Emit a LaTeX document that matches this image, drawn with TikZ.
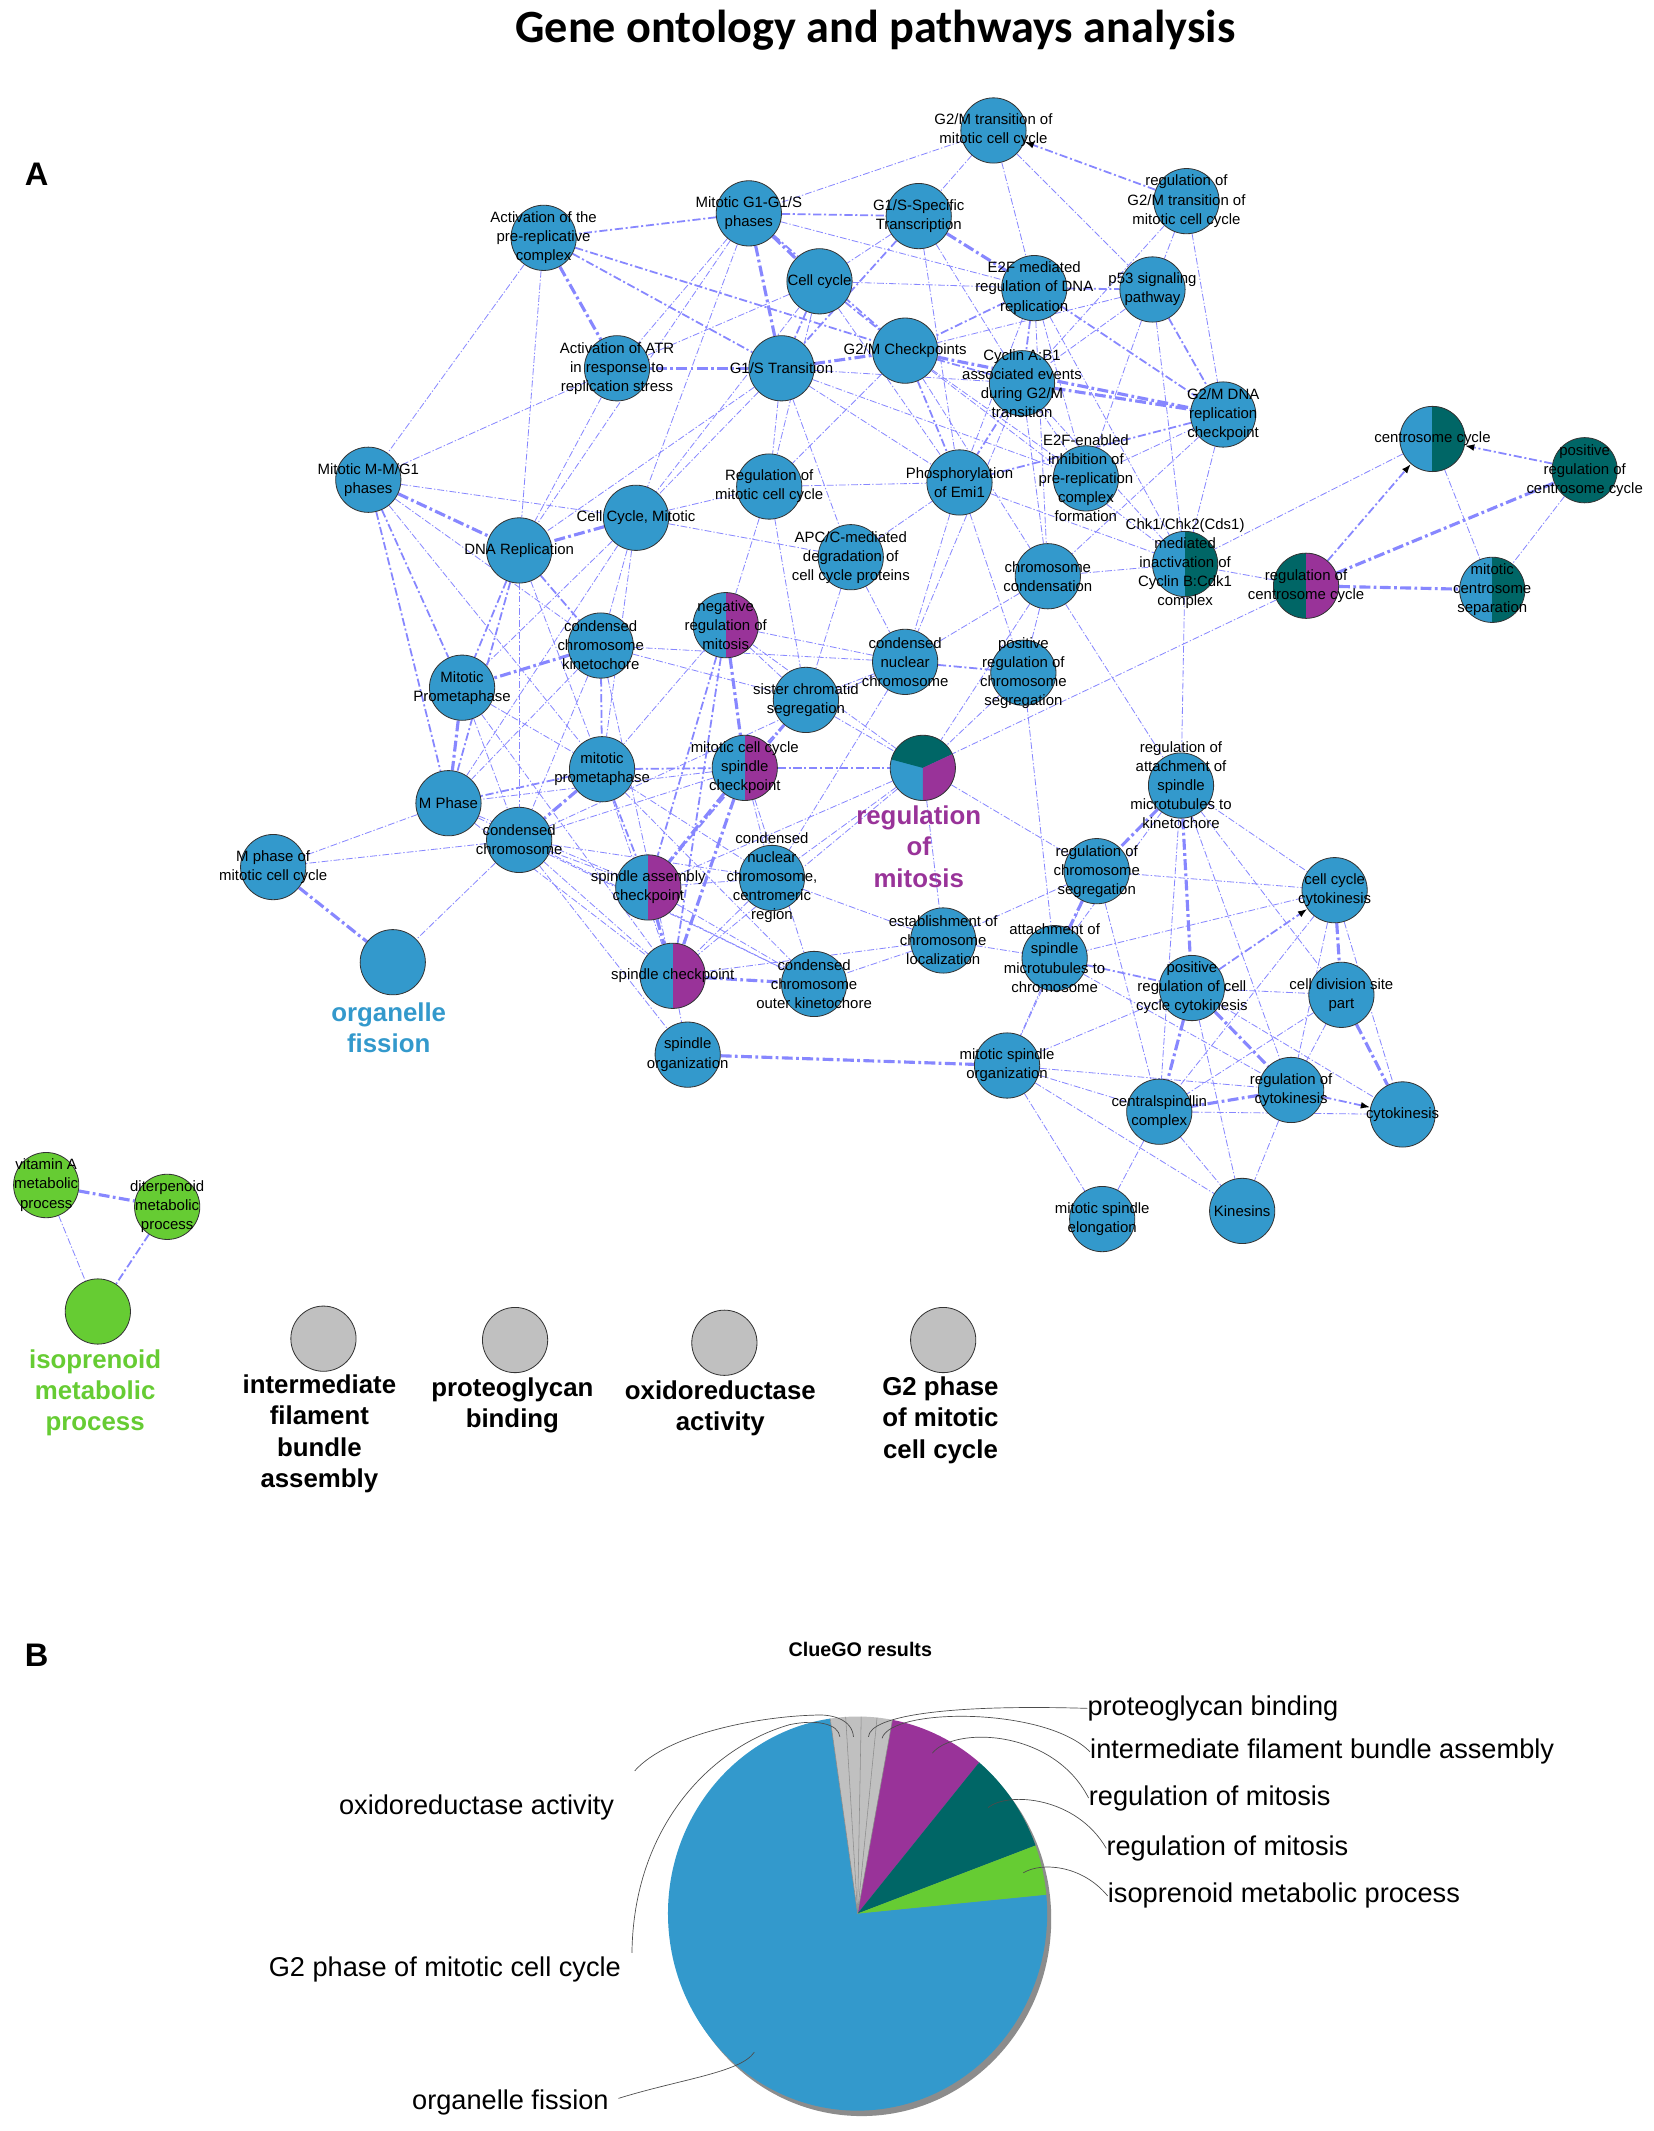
\documentclass[tikz,border=0pt]{standalone}
\usepackage{fontspec}
\setmainfont{Liberation Sans}
\newfontfamily\titlefont{Carlito}
\usetikzlibrary{arrows.meta}
\definecolor{nblue}{RGB}{51,153,204}
\definecolor{npurple}{RGB}{153,51,153}
\definecolor{nteal}{RGB}{0,102,102}
\definecolor{ngreen}{RGB}{102,204,51}
\definecolor{ngrey}{RGB}{192,192,192}
\definecolor{ecol}{RGB}{135,135,255}
\pgfdeclarelayer{bglayer}
\pgfdeclarelayer{edgelayer}
\pgfsetlayers{bglayer,edgelayer,main}
\tikzset{
  gonode/.style={circle, draw=black!80, line width=0.6pt, minimum size=48pt, inner sep=0pt, fill=nblue},
  halfright/.style={path picture={\fill[#1] (path picture bounding box.north) rectangle (path picture bounding box.south east);}},
  tripie/.style={path picture={
     \fill[nteal] (path picture bounding box.center) -- ++(-25:30) arc[start angle=-25, end angle=-165, radius=30] -- cycle;
     \fill[npurple] (path picture bounding box.center) -- ++(90:30) arc[start angle=90, end angle=-25, radius=30] -- cycle;}},
  lab/.style={font=\fontsize{11}{14}\selectfont, align=center, inner sep=0pt},
  biglab/.style={font=\fontsize{19}{23}\selectfont\bfseries, align=center, inner sep=0pt},
  piel/.style={font=\fontsize{20}{24}\selectfont, inner sep=0pt},
  ethin/.style={draw=ecol, line width=0.6pt, dash pattern=on 5pt off 1.5pt on 1pt off 1.5pt},
  emid/.style={draw=ecol, line width=1.3pt, dash pattern=on 6pt off 2pt on 1.5pt off 2pt},
  ethick/.style={draw=ecol, line width=2.3pt, dash pattern=on 8pt off 2.5pt on 2pt off 2.5pt},
  tipped/.style={-{Latex[length=7pt,width=5pt,black]}},
  leader/.style={draw=black!70, line width=0.5pt},
}
\begin{document}
\begin{tikzpicture}[x=1pt,y=-1pt]
\useasboundingbox (0,0) rectangle (1217,1568);
\begin{pgfonlayer}{bglayer}
\fill[white] (0,0) rectangle (1217,1568);
\end{pgfonlayer}

% ---------- titles ----------
\node[font=\titlefont\fontsize{34}{40}\selectfont\bfseries] (title) at (644,22) {Gene ontology and pathways analysis};
\node[font=\fontsize{24}{28}\selectfont\bfseries] (lA) at (27,128) {A};
\node[font=\fontsize{24}{28}\selectfont\bfseries] (lB) at (27,1218) {B};

% ---------- network nodes ----------
\node[gonode] (g2mt) at (731,96) {};
\node[gonode] (rg2m) at (873,148) {};
\node[gonode] (mg1) at (551,157) {};
\node[gonode] (g1ss) at (676,159) {};
\node[gonode] (actp) at (400,175) {};
\node[gonode] (cc) at (603,207) {};
\node[gonode] (e2fm) at (761,212) {};
\node[gonode] (p53) at (848,213) {};
\node[gonode] (atr) at (454,271) {};
\node[gonode] (g1st) at (575,271) {};
\node[gonode] (g2mc) at (666,258) {};
\node[gonode] (cyc) at (752,282) {};
\node[gonode] (g2md) at (900,305) {};
\node[gonode, halfright=nteal] (cent) at (1054,323) {};
\node[gonode, fill=nteal] (prc) at (1166,346) {};
\node[gonode] (mmg1) at (271,353) {};
\node[gonode] (rmcc) at (566,358) {};
\node[gonode] (phos) at (706,355) {};
\node[gonode] (e2fe) at (799,352) {};
\node[gonode] (ccm) at (468,381) {};
\node[gonode] (dna) at (382,405) {};
\node[gonode] (apc) at (626,410) {};
\node[gonode] (ccond) at (771,424) {};
\node[gonode, halfright=nteal] (chk) at (872,415) {};
\node[gonode, fill=nteal, halfright=npurple] (rcc) at (961,431) {};
\node[gonode, halfright=nteal] (mcs) at (1098,434) {};
\node[gonode] (cck) at (442,475) {};
\node[gonode, halfright=npurple] (neg) at (534,460) {};
\node[gonode] (cnc) at (666,487) {};
\node[gonode] (prcs) at (753,495) {};
\node[gonode] (mpro) at (340,506) {};
\node[gonode] (sis) at (593,515) {};
\node[gonode] (ratt) at (869,578) {};
\node[gonode] (mpro2) at (443,566) {};
\node[gonode, halfright=npurple] (mccs) at (548,565) {};
\node[gonode, tripie] (rmit) at (679,565) {};
\node[gonode] (mph) at (330,591) {};
\node[gonode] (cch) at (382,618) {};
\node[gonode] (mphm) at (201,638) {};
\node[gonode, halfright=npurple] (sac) at (477,653) {};
\node[gonode] (cncc) at (568,646) {};
\node[gonode] (rcs) at (807,641) {};
\node[gonode] (ccyt) at (982,655) {};
\node[gonode] (org) at (289,708) {};
\node[gonode] (est) at (694,692) {};
\node[gonode] (asm) at (776,705) {};
\node[gonode, halfright=npurple] (spc) at (495,718) {};
\node[gonode] (ccok) at (599,724) {};
\node[gonode] (prcy) at (877,727) {};
\node[gonode] (cds) at (987,732) {};
\node[gonode] (sporg) at (506,776) {};
\node[gonode] (msorg) at (741,784) {};
\node[gonode] (rcyt) at (950,802) {};
\node[gonode] (csp) at (853,818) {};
\node[gonode] (cyt) at (1032,820) {};
\node[gonode] (mse) at (811,897) {};
\node[gonode] (kin) at (914,891) {};
\node[gonode, fill=ngreen] (vit) at (34,872) {};
\node[gonode, fill=ngreen] (dit) at (123,888) {};
\node[gonode, fill=ngreen] (iso) at (72,965) {};
\node[gonode, fill=ngrey] (gr1) at (238,985) {};
\node[gonode, fill=ngrey] (gr2) at (379,986) {};
\node[gonode, fill=ngrey] (gr3) at (533,988) {};
\node[gonode, fill=ngrey] (gr4) at (694,986) {};

% ---------- edges ----------
\begin{pgfonlayer}{edgelayer}
\foreach \a/\b in {g2mt/mg1, g2mt/g1ss, g2mt/e2fm, g2mt/p53, rg2m/p53, rg2m/g2md, rg2m/cyc, mg1/atr, mg1/e2fm, mg1/ccm, mg1/dna, g1ss/cc, g1ss/cyc, g1ss/phos, actp/mmg1, actp/dna, cc/ccm, cc/rmcc, cc/atr, cc/phos, cc/e2fm, e2fm/phos, e2fm/chk, e2fm/ccond, e2fm/e2fe, p53/g2mc, p53/cyc, p53/chk, p53/e2fe, atr/mmg1, atr/dna, g1st/ccm, g1st/dna, g1st/rmcc, g1st/apc, g1st/phos, g1st/e2fe, g1st/cyc, g2mc/e2fe, g2mc/chk, g2mc/rmcc, g2mc/ccond, cyc/e2fe, cyc/chk, cyc/ccond, cyc/cnc, g2md/e2fe, g2md/chk, g2md/ccond, cent/chk, cent/mcs, prc/mcs, rcc/chk, rcc/rmit, chk/ratt, mmg1/cck, mmg1/ccm, mmg1/mpro2, ccm/rmcc, ccm/apc, ccm/mpro, ccm/cck, ccm/mpro2, ccm/mph, dna/cch, dna/mpro2, rmcc/neg, rmcc/phos, rmcc/sis, apc/phos, apc/sis, apc/cnc, phos/chk, phos/prcs, phos/cnc, ccond/cnc, ccond/prcs, ccond/chk, ccond/ratt, ccond/rmit, cck/sis, cck/cnc, cck/mph, cck/cch, cck/spc, neg/sis, neg/cnc, neg/rmit, neg/mpro2, cnc/sis, cnc/cncc, cnc/cch, prcs/rmit, prcs/asm, mpro/mpro2, mpro/cch, mpro/spc, sis/rmit, ratt/asm, ratt/ccyt, ratt/csp, ratt/rcyt, ratt/cds, mpro2/spc, mpro2/cncc, mpro2/ccok, mccs/cncc, mccs/ccok, mccs/mph, mccs/cch, rmit/sac, rmit/spc, rmit/cncc, rmit/rcs, rmit/est, mph/mphm, mph/sac, mph/spc, mph/ccok, cch/mphm, cch/org, cch/sac, cch/spc, cch/cncc, cch/ccok, cch/sporg, sac/cncc, sac/ccok, cncc/spc, cncc/est, rcs/ccyt, rcs/est, rcs/msorg, rcs/csp, ccyt/cyt, ccyt/rcyt, ccyt/csp, ccyt/asm, est/asm, est/spc, est/ccok, asm/msorg, asm/rcyt, spc/sporg, prcy/cds, prcy/msorg, prcy/cyt, prcy/kin, cds/rcyt, cds/csp, msorg/csp, msorg/rcyt, msorg/mse, msorg/kin, rcyt/kin, csp/cyt, csp/mse, csp/kin, vit/iso}
  \draw[ethin] (\a) -- (\b);
\foreach \a/\b in {mg1/actp, mg1/g1ss, mg1/g2mc, g1ss/g1st, actp/g1st, actp/g2mc, cc/g1st, cc/g2mc, e2fm/g2mc, e2fm/cyc, e2fm/p53, e2fm/g2md, p53/g2md, g2mc/cyc, g2mc/phos, cyc/phos, g2md/phos, mmg1/mpro, mmg1/mph, dna/mpro, dna/mph, dna/cck, cck/mpro2, neg/sac, neg/spc, sis/mccs, sis/sac, mpro2/mccs, mpro2/sac, mpro2/mph, mccs/rmit, asm/prcy, dit/iso, cnc/prcs}
  \draw[emid] (\a) -- (\b);
\foreach \a/\b in {mmg1/dna, ccm/dna, cck/mpro, neg/mccs, mpro/mph, mpro2/cch, mccs/sac, mccs/spc, rcs/asm, ratt/rcs, ratt/prcy, prcy/csp, prcy/rcyt, ccyt/cds, cds/cyt, rcyt/csp, sporg/msorg, mphm/org, sac/spc, spc/ccok, vit/dit, rcc/prc, rcc/mcs, g1st/atr, actp/atr, mg1/cc, mg1/g1st, g1ss/e2fm, g1st/g2mc, g2mc/g2md, cyc/g2md}
  \draw[ethick] (\a) -- (\b);
\draw[emid, tipped] (rg2m) -- (g2mt);
\draw[emid, tipped] (prc) -- (cent);
\draw[emid, tipped] (rcc) -- (cent);
\draw[emid, tipped] (prcy) -- (ccyt);
\draw[emid, tipped] (rcyt) -- (cyt);
\end{pgfonlayer}

% ---------- node labels ----------
\node[lab] (g2mt-t) at (g2mt) {G2/M transition of\\mitotic cell cycle};
\node[lab] (rg2m-t) at (rg2m) {regulation of\\G2/M transition of\\mitotic cell cycle};
\node[lab] (mg1-t) at (mg1) {Mitotic G1-G1/S\\phases};
\node[lab] (g1ss-t) at (g1ss) {G1/S-Specific\\Transcription};
\node[lab] (actp-t) at (actp) {Activation of the\\pre-replicative\\complex};
\node[lab] (cc-t) at (cc) {Cell cycle};
\node[lab] (e2fm-t) at (e2fm) {E2F mediated\\regulation of DNA\\replication};
\node[lab] (p53-t) at (p53) {p53 signaling\\pathway};
\node[lab] (atr-t) at (atr) {Activation of ATR\\in response to\\replication stress};
\node[lab] (g1st-t) at (g1st) {G1/S Transition};
\node[lab] (g2mc-t) at (g2mc) {G2/M Checkpoints};
\node[lab] (cyc-t) at (cyc) {Cyclin A:B1\\associated events\\during G2/M\\transition};
\node[lab] (g2md-t) at (g2md) {G2/M DNA\\replication\\checkpoint};
\node[lab] (cent-t) at (cent) {centrosome cycle};
\node[lab] (prc-t) at (prc) {positive\\regulation of\\centrosome cycle};
\node[lab] (mmg1-t) at (mmg1) {Mitotic M-M/G1\\phases};
\node[lab] (rmcc-t) at (rmcc) {Regulation of\\mitotic cell cycle};
\node[lab] (phos-t) at (phos) {Phosphorylation\\of Emi1};
\node[lab] (e2fe-t) at (e2fe) {E2F-enabled\\inhibition of\\pre-replication\\complex\\formation};
\node[lab] (ccm-t) at (ccm) {Cell Cycle, Mitotic};
\node[lab] (dna-t) at (dna) {DNA Replication};
\node[lab] (apc-t) at (apc) {APC/C-mediated\\degradation of\\cell cycle proteins};
\node[lab] (ccond-t) at (ccond) {chromosome\\condensation};
\node[lab] (chk-t) at (chk) {Chk1/Chk2(Cds1)\\mediated\\inactivation of\\Cyclin B:Cdk1\\complex};
\node[lab] (rcc-t) at (rcc) {regulation of\\centrosome cycle};
\node[lab] (mcs-t) at (mcs) {mitotic\\centrosome\\separation};
\node[lab] (cck-t) at (cck) {condensed\\chromosome\\kinetochore};
\node[lab] (neg-t) at (neg) {negative\\regulation of\\mitosis};
\node[lab] (cnc-t) at (cnc) {condensed\\nuclear\\chromosome};
\node[lab] (prcs-t) at (prcs) {positive\\regulation of\\chromosome\\segregation};
\node[lab] (mpro-t) at (mpro) {Mitotic\\Prometaphase};
\node[lab] (sis-t) at (sis) {sister chromatid\\segregation};
\node[lab] (ratt-t) at (ratt) {regulation of\\attachment of\\spindle\\microtubules to\\kinetochore};
\node[lab] (mpro2-t) at (mpro2) {mitotic\\prometaphase};
\node[lab] (mccs-t) at (mccs) {mitotic cell cycle\\spindle\\checkpoint};
\node[lab] (mph-t) at (mph) {M Phase};
\node[lab] (cch-t) at (cch) {condensed\\chromosome};
\node[lab] (mphm-t) at (mphm) {M phase of\\mitotic cell cycle};
\node[lab] (sac-t) at (sac) {spindle assembly\\checkpoint};
\node[lab] (cncc-t) at (cncc) {condensed\\nuclear\\chromosome,\\centromeric\\region};
\node[lab] (rcs-t) at (rcs) {regulation of\\chromosome\\segregation};
\node[lab] (ccyt-t) at (ccyt) {cell cycle\\cytokinesis};
\node[lab] (est-t) at (est) {establishment of\\chromosome\\localization};
\node[lab] (asm-t) at (asm) {attachment of\\spindle\\microtubules to\\chromosome};
\node[lab] (spc-t) at (spc) {spindle checkpoint};
\node[lab] (ccok-t) at (ccok) {condensed\\chromosome\\outer kinetochore};
\node[lab] (prcy-t) at (prcy) {positive\\regulation of cell\\cycle cytokinesis};
\node[lab] (cds-t) at (cds) {cell division site\\part};
\node[lab] (sporg-t) at (sporg) {spindle\\organization};
\node[lab] (msorg-t) at (msorg) {mitotic spindle\\organization};
\node[lab] (rcyt-t) at (rcyt) {regulation of\\cytokinesis};
\node[lab] (csp-t) at (csp) {centralspindlin\\complex};
\node[lab] (cyt-t) at (cyt) {cytokinesis};
\node[lab] (mse-t) at (mse) {mitotic spindle\\elongation};
\node[lab] (kin-t) at (kin) {Kinesins};
\node[lab] (vit-t) at (vit) {vitamin A\\metabolic\\process};
\node[lab] (dit-t) at (dit) {diterpenoid\\metabolic\\process};

% ---------- group labels ----------
\node[biglab, text=nblue] (org-t) at (286,756) {organelle\\fission};
\node[biglab, text=npurple] (rmit-t) at (676,623) {regulation\\of\\mitosis};
\node[biglab, text=ngreen] (iso-t) at (70,1025) {isoprenoid\\metabolic\\process};
\node[biglab] (gr1-t) at (235,1055) {intermediate\\filament\\bundle\\assembly};
\node[biglab] (gr2-t) at (377,1034) {proteoglycan\\binding};
\node[biglab] (gr3-t) at (530,1036) {oxidoreductase\\activity};
\node[biglab] (gr4-t) at (692,1045) {G2 phase\\of mitotic\\cell cycle};

% ---------- pie chart ----------
\node[font=\fontsize{14.5}{17}\selectfont\bfseries] (cgo) at (633,1214) {ClueGO results};
\coordinate (pc) at (631,1408);
\fill[black!45] (634,1412) ellipse [x radius=139.5, y radius=145];
\fill[nblue] (pc) -- ++(-5.5:139.5 and 145) arc[start angle=-5.5, end angle=261.7, x radius=139.5, y radius=145] -- cycle;
\fill[ngrey] (pc) -- ++(-98.3:139.5 and 145) arc[start angle=-98.3, end angle=-79.4, x radius=139.5, y radius=145] -- cycle;
\fill[npurple] (pc) -- ++(-79.4:139.5 and 145) arc[start angle=-79.4, end angle=-50.1, x radius=139.5, y radius=145] -- cycle;
\fill[nteal] (pc) -- ++(-50.1:139.5 and 145) arc[start angle=-50.1, end angle=-20.2, x radius=139.5, y radius=145] -- cycle;
\fill[ngreen] (pc) -- ++(-20.2:139.5 and 145) arc[start angle=-20.2, end angle=-5.5, x radius=139.5, y radius=145] -- cycle;
\foreach \ang in {-98.3,-93.6,-88.9,-84.1,-79.4}
  \draw[black!45, line width=0.4pt] (pc) -- ++(\ang:139.5 and 145);

\node[piel, anchor=west] (pgb) at (800,1257) {proteoglycan binding};
\node[piel, anchor=west] (ifb) at (802,1289) {intermediate filament bundle assembly};
\node[piel, anchor=west] (rm1) at (801,1323) {regulation of mitosis};
\node[piel, anchor=west] (rm2) at (814,1360) {regulation of mitosis};
\node[piel, anchor=west] (ipl) at (815,1395) {isoprenoid metabolic process};
\node[piel, anchor=east] (oxl) at (452,1330) {oxidoreductase activity};
\node[piel, anchor=east] (g2l) at (457,1449) {G2 phase of mitotic cell cycle};
\node[piel, anchor=east] (ofl) at (448,1547) {organelle fission};

\coordinate (s1) at (639,1278);
\coordinate (s2) at (649,1279);
\coordinate (s3) at (686,1290);
\coordinate (s4) at (727,1330);
\coordinate (s5) at (753,1378);
\coordinate (s6) at (628,1278);
\coordinate (e6) at (467,1303);
\coordinate (s7) at (618,1278);
\coordinate (e7) at (465,1437);
\coordinate (s8) at (555,1510);
\coordinate (e8) at (455,1544);
\draw[leader] (s1) .. controls (640,1262) and (700,1254) .. (pgb.west);
\draw[leader] (s2) .. controls (656,1256) and (770,1256) .. (ifb.west);
\draw[leader] (s3) .. controls (702,1270) and (775,1272) .. (rm1.west);
\draw[leader] (s4) .. controls (742,1318) and (792,1322) .. (rm2.west);
\draw[leader] (s5) .. controls (766,1370) and (796,1372) .. (ipl.west);
\draw[leader] (s6) .. controls (627,1265) and (612,1261) .. (599,1262) .. controls (560,1263) and (492,1275) .. (e6);
\draw[leader] (s7) .. controls (617,1268) and (600,1265) .. (581,1269) .. controls (522,1286) and (466,1345) .. (e7);
\draw[leader] (s8) .. controls (545,1525) and (500,1530) .. (e8);
\end{tikzpicture}
\end{document}
